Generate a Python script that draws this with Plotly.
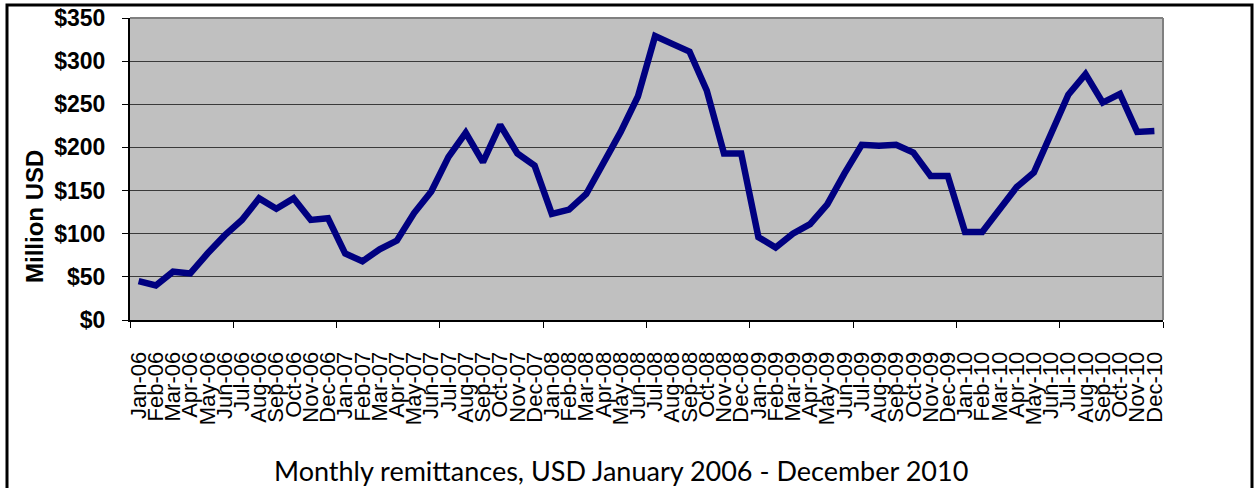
import plotly.graph_objects as go

months = ["Jan", "Feb", "Mar", "Apr", "May", "Jun", "Jul", "Aug", "Sep", "Oct", "Nov", "Dec"]
years = ["06", "07", "08", "09", "10"]
categories = [f"{m}-{y}" for y in years for m in months]

remittances = [
    45, 40, 56, 54, 77, 98, 116, 141, 129, 141, 116, 118,
    77, 68, 82, 92, 124, 149, 189, 217, 183, 226, 193, 179,
    123, 128, 146, 182, 218, 259, 329, 320, 311, 266, 193, 193,
    96, 84, 100, 111, 134, 170, 203, 202, 203, 194, 167, 167,
    102, 102, 127, 154, 171, 216, 261, 285, 252, 262, 218, 219,
]

y_ticks = [0, 50, 100, 150, 200, 250, 300, 350]
y_tick_text = [f"${v}" for v in y_ticks]

x_idx = list(range(len(categories)))

W, H = 1254, 488
L, R, T, B = 130, 1163, 18, 320
pw, ph = R - L, B - T

def px(x):
    return (x - L) / pw

def py(y):
    return (B - y) / ph

fig = go.Figure()
fig.add_trace(go.Scatter(
    x=x_idx, y=remittances, mode="lines",
    line=dict(color="#000080", width=6.5),
    hoverinfo="skip", showlegend=False,
))

fig.update_layout(
    width=W, height=H,
    margin=dict(l=L, r=W - R, t=T, b=H - B, pad=0, autoexpand=False),
    paper_bgcolor="white",
    plot_bgcolor="#C0C0C0",
    font=dict(family="Liberation Sans, Arial", color="black"),
)

fig.update_xaxes(
    range=[-0.5, len(categories) - 0.5], automargin=False,
    tickmode="array", tickvals=x_idx, ticktext=categories,
    tickangle=-90, ticks="", showgrid=False, zeroline=False,
    tickfont=dict(size=22, family="Liberation Sans, Arial", color="black"),
    showline=True, linecolor="black", linewidth=2,
    ticklabelstandoff=21,
    minor=dict(tickmode="array",
               tickvals=[i - 0.5 for i in range(0, len(categories) + 1, 6)],
               ticks="outside", ticklen=6, tickcolor="black", tickwidth=1,
               showgrid=False),
)

fig.update_yaxes(
    range=[0, 350], automargin=False,
    tickmode="array", tickvals=y_ticks, ticktext=y_tick_text,
    ticks="outside", ticklen=6, tickcolor="black", tickwidth=1,
    tickfont=dict(size=23, family="Liberation Sans, Arial", color="black", weight="bold"),
    showgrid=True, gridcolor="#3a3a3a", gridwidth=1,
    zeroline=False, showline=True, linecolor="black", linewidth=2,
    ticklabelstandoff=12,
)

# plot area gray top/right border
fig.add_shape(type="line", xref="paper", yref="paper", x0=0, x1=1, y0=1, y1=1,
              line=dict(color="#808080", width=2))
fig.add_shape(type="line", xref="paper", yref="paper", x0=1, x1=1, y0=0, y1=1,
              line=dict(color="#808080", width=2))

# outer chart frame
fig.add_shape(type="rect", xref="paper", yref="paper",
              x0=px(7), x1=px(1252), y0=py(5), y1=py(560),
              line=dict(color="black", width=3), fillcolor="rgba(0,0,0,0)", layer="above")

fig.add_annotation(
    text="<b>Million USD</b>", xref="paper", yref="paper",
    x=px(35), y=py(217), textangle=-90, showarrow=False,
    font=dict(size=24, family="Liberation Sans, Arial", color="black"),
    xanchor="center", yanchor="middle",
)

fig.add_annotation(
    text="Monthly remittances, USD January 2006 - December 2010",
    xref="paper", yref="paper", x=px(621), y=py(470), showarrow=False,
    font=dict(size=27, family="Lato, Open Sans", color="black"),
    xanchor="center", yanchor="middle",
)

fig.write_html("out.html", config={"displayModeBar": False},
               post_script="document.body.style.margin='0';")
